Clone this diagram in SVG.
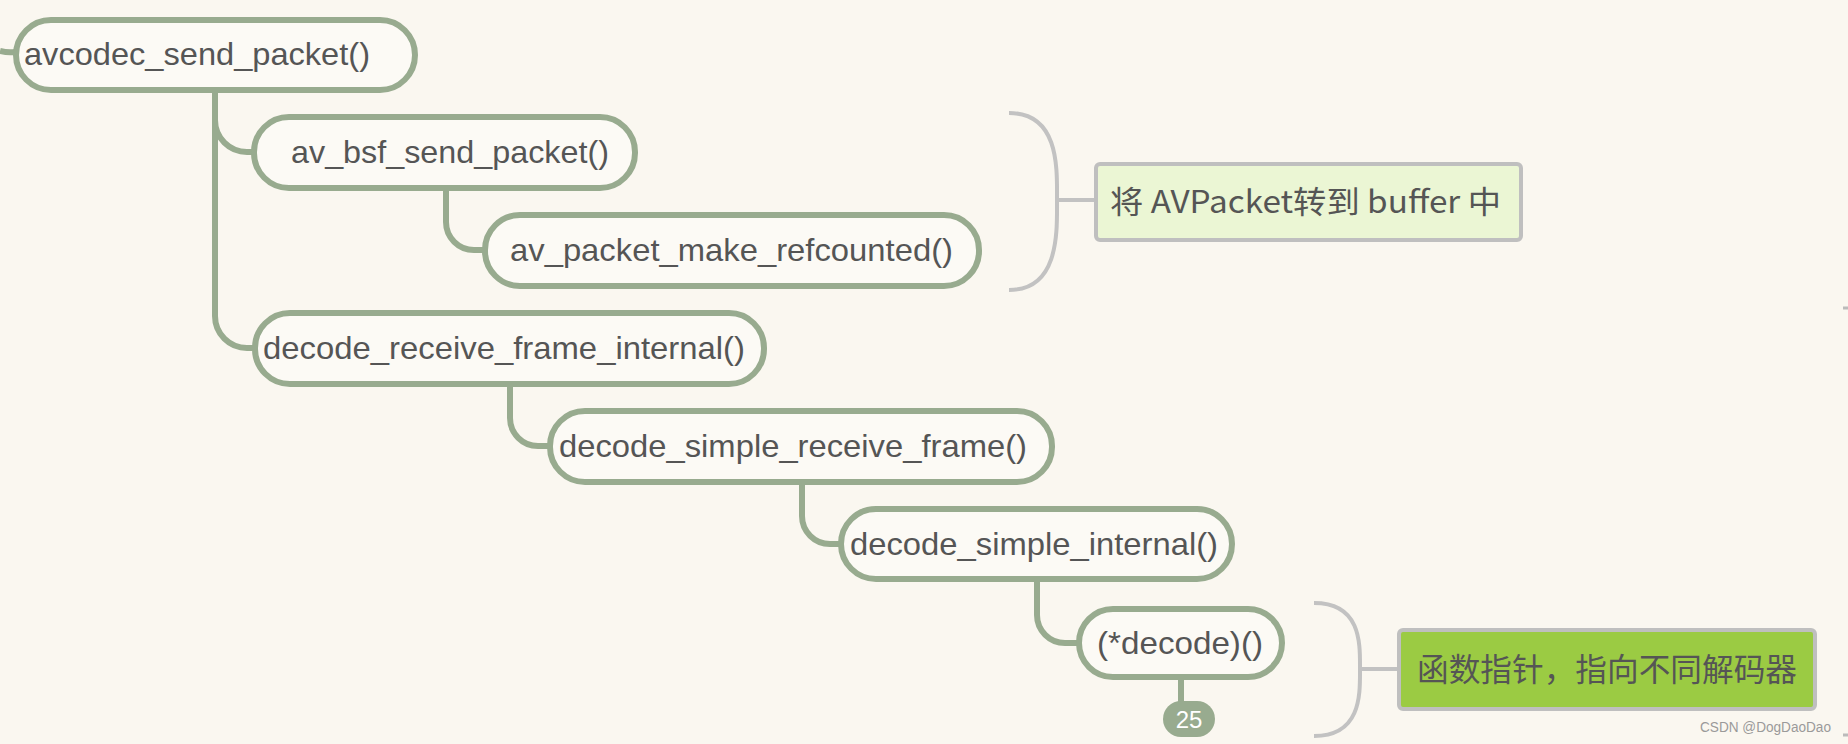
<svg xmlns="http://www.w3.org/2000/svg" width="1848" height="744" viewBox="0 0 1848 744">
<style>
.node rect{fill:#fcfaf5;stroke:#98ab8f;stroke-width:6}
.node text{font-family:"Liberation Sans",Arial,sans-serif;font-size:32px;fill:#555555}
.conn path{fill:none;stroke:#98ab8f;stroke-width:6}
.brace path{fill:none;stroke:#c2c2c2;stroke-width:4}
.note rect{stroke:#bfbfbf;stroke-width:4}
.note text{font-family:"Noto Sans CJK SC","Liberation Sans",sans-serif;font-size:31px;fill:#555555}
</style>
<rect x="0" y="0" width="1848" height="744" fill="#faf7f0"/>
<g class="conn" id="connectors">
<path d="M0,51 Q8,53 15,52"/>
<path d="M215,92 V120 A32,32 0 0 0 247,152 H254"/>
<path d="M215,120 V316 A32,32 0 0 0 247,348 H255"/>
<path d="M446,190 V222 A28,28 0 0 0 474,250 H485"/>
<path d="M510,386 V418 A28,28 0 0 0 538,446 H550"/>
<path d="M802,484 V516 A28,28 0 0 0 830,544 H841"/>
<path d="M1037,581 V615 A28,28 0 0 0 1065,643 H1079"/>
<path d="M1181,679 V703"/>
</g>
<g class="brace" id="braces">
<path d="M1009,113 C1060,113 1057,170 1057,200 C1057,230 1060,290 1009,290"/>
<path d="M1057,200 H1096"/>
<path d="M1314,603 C1362,603 1360,645 1360,669 C1360,693 1362,736 1314,736"/>
<path d="M1360,669 H1399"/>
</g>
<g class="node" id="n-avcodec_send_packet">
<rect x="16" y="20" width="399" height="70" rx="35"/>
<text x="24" y="65" textLength="346" lengthAdjust="spacingAndGlyphs">avcodec_send_packet()</text>
</g>
<g class="node" id="n-av_bsf_send_packet">
<rect x="254" y="117" width="381" height="71" rx="35"/>
<text x="291" y="163" textLength="318" lengthAdjust="spacingAndGlyphs">av_bsf_send_packet()</text>
</g>
<g class="node" id="n-av_packet_make_refcounted">
<rect x="485" y="215" width="494" height="71" rx="35"/>
<text x="510" y="261" textLength="443" lengthAdjust="spacingAndGlyphs">av_packet_make_refcounted()</text>
</g>
<g class="node" id="n-decode_receive_frame_internal">
<rect x="255" y="313" width="509" height="71" rx="35"/>
<text x="263" y="359" textLength="482" lengthAdjust="spacingAndGlyphs">decode_receive_frame_internal()</text>
</g>
<g class="node" id="n-decode_simple_receive_frame">
<rect x="550" y="411" width="502" height="71" rx="35"/>
<text x="559" y="457" textLength="468" lengthAdjust="spacingAndGlyphs">decode_simple_receive_frame()</text>
</g>
<g class="node" id="n-decode_simple_internal">
<rect x="841" y="509" width="391" height="70" rx="35"/>
<text x="850" y="555" textLength="368" lengthAdjust="spacingAndGlyphs">decode_simple_internal()</text>
</g>
<g class="node" id="n-decode">
<rect x="1079" y="609" width="203" height="68" rx="34"/>
<text x="1097" y="654" textLength="166" lengthAdjust="spacingAndGlyphs">(*decode)()</text>
</g>
<g id="badge-25">
<rect x="1163" y="701" width="52" height="36" rx="18" fill="#98ab8f"/>
<text x="1189" y="728" text-anchor="middle" font-family="Liberation Sans,Arial,sans-serif" font-size="24" fill="#ffffff">25</text>
</g>
<g class="note" id="note-1">
<rect x="1096" y="164" width="425" height="76" rx="4" fill="#ebf6d4"/>
<text x="1110" y="213" textLength="391" lengthAdjust="spacingAndGlyphs">将 AVPacket转到 buffer 中</text>
</g>
<g class="note" id="note-2">
<rect x="1399" y="630" width="416" height="79" rx="4" fill="#9bcb43"/>
<text x="1417" y="681" font-size="32" style="font-size:32px" textLength="380" lengthAdjust="spacingAndGlyphs">函数指针，指向不同解码器</text>
</g>
<g id="edge-marks">
<path d="M1843,308 H1848" stroke="#bbbbbb" stroke-width="3"/>
<path d="M1843,735 H1848" stroke="#bbbbbb" stroke-width="3"/>
</g>
<text x="1700" y="732" font-family="Liberation Sans,Arial,sans-serif" font-size="14" fill="#9a9a9a" textLength="131" lengthAdjust="spacingAndGlyphs">CSDN @DogDaoDao</text>
</svg>
